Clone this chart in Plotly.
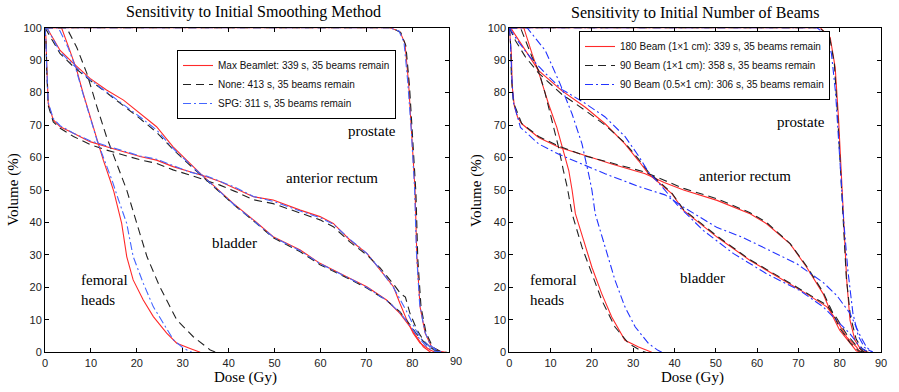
import plotly.graph_objects as go

W, H = 899, 392

# ---------------- Left panel: Sensitivity to Initial Smoothing Method ----------------
L_names = ["Max Beamlet: 339 s, 35 beams remain", "None: 413 s, 35 beams remain", "SPG: 311 s, 35 beams remain"]

# femoral heads
L_fem_red_x = [0, 3.6, 5.4, 6.9, 8.3, 9.8, 11.3, 12.7, 14.2, 15.0, 15.6, 16.7, 17.8, 19.2, 21.4, 23.6, 26.5, 28.7, 31.6, 33.8]
L_fem_red_y = [100, 100, 93, 87, 79.8, 72.6, 65.4, 59.2, 53, 49.5, 46, 39.7, 29.5, 22.3, 16.1, 11, 5.9, 2.8, 1.2, 0]
L_fem_blk_x = [0, 4.7, 6.9, 9.1, 11.3, 13.4, 15.6, 17.8, 20, 22.2, 25, 28.7, 32.3, 36, 37.2]
L_fem_blk_y = [100, 100, 94, 86, 75.7, 66.4, 58.2, 50, 39.7, 29.5, 20.2, 10, 4.8, 0.7, 0]
L_fem_blu_x = [0, 2.9, 5, 6.6, 8.2, 9.8, 11.4, 13, 14.6, 16, 17.8, 19.2, 21.4, 23.6, 25.8, 28, 30.2, 32]
L_fem_blu_y = [100, 100, 94, 88, 80, 72.5, 65, 59, 53, 47, 39.7, 29.5, 21.3, 14, 8.9, 3.8, 1.2, 0]

# bladder
L_bla_red_x = [0, 0.4, 3.3, 6.2, 9.8, 13.4, 17.1, 20.7, 24.3, 27.9, 30.9, 33.8, 37.4, 41, 45.4, 49.7, 55.6, 59.9, 65.7, 70.1, 74.4, 77.3, 79.5, 81, 82.4, 84]
L_bla_red_y = [100, 100, 93, 89, 84.4, 80.8, 77.7, 73.6, 69.5, 63.3, 59.2, 55.1, 50.5, 45.9, 40.8, 35.6, 31.5, 27.4, 23.3, 20.2, 16.1, 12, 7.9, 4.8, 1.7, 0]
L_bla_blk_x = [0, 0.4, 3.3, 6.2, 9.8, 13.4, 17.1, 20.7, 24.3, 27.9, 30.9, 33.8, 37.4, 41, 45.4, 49.7, 55.6, 59.9, 65.7, 70.1, 74.4, 77.3, 79.5, 81, 83, 85, 86]
L_bla_blk_y = [100, 99, 92, 88, 83.8, 80, 76, 72, 67.8, 62.5, 58.5, 54.8, 50, 45.6, 40.5, 35.3, 31, 27, 23, 19.8, 16, 12.5, 8.5, 5.5, 2.5, 0.5, 0]
L_bla_blu_x = [0, 0.4, 3.3, 6.2, 9.8, 13.4, 17.1, 20.7, 24.3, 27.9, 30.9, 33.8, 37.4, 41, 45.4, 49.7, 55.6, 59.9, 65.7, 70.1, 74.4, 77.3, 79.5, 81, 82.8, 84.5, 86]
L_bla_blu_y = [100, 100, 92.5, 88.5, 84, 80.2, 76.5, 72.5, 68.5, 62.8, 58.8, 55, 50.2, 45.7, 40.6, 35.5, 31.3, 27.3, 23.2, 20, 16, 12.3, 8.3, 5.2, 2.2, 0.5, 0]

# anterior rectum
L_rec_red_x = [0, 0.2, 0.4, 0.7, 1.8, 3.3, 6.2, 9.8, 13.4, 17.1, 20.7, 24.3, 27.9, 31.6, 35.2, 38.1, 41.5, 45.4, 49.7, 55.6, 59.9, 62.8, 66.4, 70.1, 73, 75.9, 77.3, 78.8, 80.2, 81.7, 83.9, 85]
L_rec_red_y = [100, 97, 88, 76.7, 71.6, 69.5, 67.5, 64.9, 63.3, 61.8, 60.3, 59.2, 57.2, 55.6, 54.1, 52.6, 50.5, 47.9, 46.9, 43.8, 41.8, 39.7, 34.6, 30.5, 25.4, 20.2, 15.1, 10, 5.9, 2.8, 0.7, 0]
L_rec_blk_x = [0, 0.2, 0.4, 0.7, 1.8, 3.3, 6.2, 9.8, 13.4, 17.1, 20.7, 24.3, 27.9, 31.6, 35.2, 38.1, 41.5, 45.4, 49.7, 55.6, 59.9, 62.8, 66.4, 70.1, 73, 75.9, 77.5, 78.5, 79.5, 81, 82.5, 84, 86]
L_rec_blk_y = [100, 96, 86, 76, 71, 69, 66.5, 64, 62.3, 60.8, 59.3, 58.2, 56.2, 54.6, 53, 51.5, 49.5, 47, 45.8, 42.8, 40.8, 38.7, 34, 30, 26, 21, 18, 17, 12, 7, 3.5, 1.5, 0]
L_rec_blu_x = [0, 0.2, 0.4, 0.7, 1.8, 3.3, 6.2, 9.8, 13.4, 17.1, 20.7, 24.3, 27.9, 31.6, 35.2, 38.1, 41.5, 45.4, 49.7, 55.6, 59.9, 62.8, 66.4, 70.1, 73, 75.9, 77.5, 79, 80.5, 82, 84, 86]
L_rec_blu_y = [100, 96, 87, 77, 72, 69.8, 67.5, 65.2, 63.6, 62, 60.5, 59.5, 57.5, 55.5, 54.3, 52.8, 50.8, 48, 46.5, 43.5, 41.5, 39.5, 34.8, 30.5, 25.5, 20, 16, 12, 7.5, 4, 1.5, 0]

# prostate
L_pro_red_x = [0, 75.2, 77.3, 78.4, 79.2, 79.9, 80.6, 81, 81.7, 82.8, 84.2, 86, 87.3]
L_pro_red_y = [100, 100, 98.8, 95.2, 82.9, 67.5, 50, 29.5, 14, 5.9, 1.7, 0.3, 0]
L_pro_blk_x = [0, 75.5, 77.5, 78.6, 79.4, 80.1, 80.8, 81.2, 81.9, 83, 84.5, 86.3, 87.5]
L_pro_blk_y = [100, 100, 98.5, 94.5, 82, 66, 49, 29, 14, 6, 1.5, 0.2, 0]
L_pro_blu_x = [0, 75, 77.1, 78.2, 79, 79.8, 80.5, 80.9, 81.6, 82.7, 84, 85.8, 87]
L_pro_blu_y = [100, 100, 99, 95.5, 83.5, 68, 50.5, 31, 15, 6.5, 2, 0.3, 0]

# ---------------- Right panel: Sensitivity to Initial Number of Beams ----------------
R_names = ["180 Beam (1\u00d71 cm): 339 s, 35 beams remain", "90 Beam (1\u00d71 cm): 358 s, 35 beams remain", "90 Beam (0.5\u00d71 cm): 306 s, 35 beams remain"]

R_fem_red_x = [0, 3.5, 5.5, 7.5, 9.5, 11.5, 13.1, 14.4, 15.2, 16, 18, 20, 22.4, 24.8, 28, 31.3, 34.5]
R_fem_red_y = [100, 100, 92, 84.7, 76.5, 69.3, 62, 56, 50, 42.7, 34.5, 26.2, 18, 10.9, 3.7, 1.6, 0]
R_fem_blk_x = [0, 2.7, 5.5, 7.1, 8.7, 10.3, 11.9, 13.1, 14, 15.2, 17.6, 20, 22.4, 25.6, 28.9, 32, 33]
R_fem_blk_y = [100, 100, 91, 86.8, 79.7, 71.5, 63.3, 56, 51, 42.7, 32.4, 24.2, 16, 7.8, 2.7, 0.4, 0]
R_fem_blu_x = [0, 4.3, 8.7, 12.3, 15.2, 17.6, 19.2, 20, 20.8, 23.2, 25.6, 28, 30.5, 33.7, 36, 37]
R_fem_blu_y = [100, 100, 93, 82.7, 73.4, 64.2, 55, 50, 42.7, 32.4, 22.2, 14, 7.8, 2.7, 0.6, 0]

R_bla_red_x = [0, 0.5, 3.9, 7.1, 12.7, 18.4, 23.2, 28, 31.3, 33.7, 39.4, 42.2, 50.3, 58.3, 66.4, 72, 76.9, 79.3, 81.7, 84.1, 85]
R_bla_red_y = [100, 99.6, 93, 86.8, 80.6, 75.5, 70.4, 64.2, 59, 55, 48.8, 43.7, 35.5, 28.3, 22.2, 18, 14, 9.8, 4.7, 1.6, 0]
R_bla_blk_x = [0, 1.5, 3.9, 7.1, 12.7, 18.4, 23.2, 28, 31.3, 33.7, 39.4, 42.2, 50.3, 58.3, 66.4, 72, 76.9, 79.3, 81.7, 84.1, 86]
R_bla_blk_y = [100, 96, 91, 86, 79.5, 74.5, 70, 64.5, 59.5, 55.5, 49, 44, 35.8, 28.5, 22.5, 18.3, 14.5, 10.5, 5.5, 2, 0]
R_bla_blu_x = [0, 2, 5, 8.7, 12.7, 18, 23.2, 28, 31.3, 33.7, 37, 40.6, 47, 54.3, 62.3, 70.4, 76, 79.3, 82.5, 85, 87]
R_bla_blu_y = [100, 96, 91, 86, 81, 77, 72.5, 66.5, 60.5, 55.5, 51, 45.5, 37.5, 30.4, 24.2, 19, 14, 9.8, 5.7, 1.5, 0]

R_rec_red_x = [0, 0.2, 0.5, 0.7, 1.2, 2, 3, 7.1, 12, 18.4, 24.8, 32.9, 37.5, 42.2, 50.3, 58.3, 62.3, 68, 72, 76, 78, 80, 82.5, 84, 85]
R_rec_red_y = [100, 97, 92, 82, 76, 72.5, 70.4, 66.2, 63.2, 60.6, 58, 55, 52.3, 50, 46.8, 42.7, 39.6, 33.4, 26.2, 18, 11.9, 6.8, 2.7, 0.5, 0]
R_rec_blk_x = [0, 0.3, 0.5, 1, 3, 7.1, 12, 18.4, 24.8, 32.9, 37.5, 42.2, 50.3, 58.3, 62.3, 68, 72, 76, 78, 80, 82.5, 84.5, 86]
R_rec_blk_y = [100, 95, 85, 77, 70.5, 66.5, 63.5, 60.5, 58.3, 55.5, 53, 50.5, 47.3, 43, 40, 33.5, 26.5, 18.5, 13, 7.5, 3, 0.5, 0]
R_rec_blu_x = [0, 0.3, 0.6, 1, 2.7, 7.1, 12, 17.6, 23.2, 31.5, 37.7, 42.2, 50.2, 56.7, 63.2, 69.6, 76, 79.3, 82.5, 85, 86.5, 88]
R_rec_blu_y = [100, 95, 85, 77, 69.3, 64.2, 61, 58, 55, 51, 48.5, 44.7, 38.5, 35.3, 31.3, 27.3, 21.5, 17.5, 12, 5, 1.6, 0]

R_pro_red_x = [0, 75.3, 77.7, 78.9, 79.7, 80.5, 80.9, 81.7, 82.5, 83.7, 85.3, 87]
R_pro_red_y = [100, 100, 97, 87.8, 72.4, 50.9, 42.7, 22.2, 9.8, 3.7, 0.5, 0]
R_pro_blk_x = [0, 75, 77.5, 78.7, 79.5, 80.3, 80.8, 81.6, 82.6, 84, 85.5, 87]
R_pro_blk_y = [100, 100, 97.5, 89, 73, 52, 42, 23, 11, 4, 1, 0]
R_pro_blu_x = [0, 74.5, 76.5, 78, 79, 79.7, 80.5, 81, 82, 83.2, 84.5, 86, 88]
R_pro_blu_y = [100, 100, 98, 92, 80, 65, 50, 40, 25, 12, 5, 1.5, 0]

# tick labels
x_ticks = [0, 10, 20, 30, 40, 50, 60, 70, 80, 90]
y_ticks = [0, 10, 20, 30, 40, 50, 60, 70, 80, 90, 100]

RED = "#ff2a2a"
BLK = "#222222"
BLU_L = "#4466ff"
BLU_R = "#2233ff"
DASH = "8px,5px"
DASHDOT = "8px,3px,2px,3px"

fig = go.Figure()

def add_set(xs_ys, name, color, dash, xaxis, yaxis, legend):
    first = True
    for xs, ys in xs_ys:
        fig.add_trace(go.Scatter(
            x=xs, y=ys, mode="lines", name=name,
            line=dict(color=color, width=1.1, dash=dash),
            xaxis=xaxis, yaxis=yaxis, legend=legend,
            showlegend=first, hoverinfo="skip"))
        first = False

add_set([(L_fem_red_x, L_fem_red_y), (L_bla_red_x, L_bla_red_y), (L_rec_red_x, L_rec_red_y), (L_pro_red_x, L_pro_red_y)],
        L_names[0], RED, "solid", "x", "y", "legend")
add_set([(L_fem_blk_x, L_fem_blk_y), (L_bla_blk_x, L_bla_blk_y), (L_rec_blk_x, L_rec_blk_y), (L_pro_blk_x, L_pro_blk_y)],
        L_names[1], BLK, DASH, "x", "y", "legend")
add_set([(L_fem_blu_x, L_fem_blu_y), (L_bla_blu_x, L_bla_blu_y), (L_rec_blu_x, L_rec_blu_y), (L_pro_blu_x, L_pro_blu_y)],
        L_names[2], BLU_L, DASHDOT, "x", "y", "legend")

add_set([(R_fem_red_x, R_fem_red_y), (R_bla_red_x, R_bla_red_y), (R_rec_red_x, R_rec_red_y), (R_pro_red_x, R_pro_red_y)],
        R_names[0], RED, "solid", "x2", "y2", "legend2")
add_set([(R_fem_blk_x, R_fem_blk_y), (R_bla_blk_x, R_bla_blk_y), (R_rec_blk_x, R_rec_blk_y), (R_pro_blk_x, R_pro_blk_y)],
        R_names[1], BLK, DASH, "x2", "y2", "legend2")
add_set([(R_fem_blu_x, R_fem_blu_y), (R_bla_blu_x, R_bla_blu_y), (R_rec_blu_x, R_rec_blu_y), (R_pro_blu_x, R_pro_blu_y)],
        R_names[2], BLU_R, DASHDOT, "x2", "y2", "legend2")

tickfont = dict(family="Liberation Sans, Arial, sans-serif", size=11, color="#222")
serif = "Liberation Serif, Times New Roman, serif"

ydom = [1 - 352.3 / H, 1 - 27.7 / H]
axis_common = dict(showline=True, linecolor="black", linewidth=1, mirror="ticks",
                   ticks="inside", ticklen=4, tickcolor="black", showgrid=False,
                   zeroline=False, tickfont=tickfont, automargin=False)

legfont = dict(family="Liberation Sans, Arial, sans-serif", size=10, color="#111")

fig.update_layout(
    template="none",
    width=W, height=H, margin=dict(l=0, r=0, t=0, b=0, pad=0, autoexpand=False),
    paper_bgcolor="white", plot_bgcolor="white",
    xaxis=dict(domain=[45 / W, 449 / W], range=[0, 88], tickvals=x_ticks[:-1], anchor="y", **axis_common),
    yaxis=dict(domain=ydom, range=[0, 100], tickvals=y_ticks, anchor="x", **axis_common),
    xaxis2=dict(domain=[509.3 / W, 881 / W], range=[0, 90], tickvals=x_ticks, anchor="y2", **axis_common),
    yaxis2=dict(domain=ydom, range=[0, 100], tickvals=y_ticks, anchor="x2", **axis_common),
    legend=dict(x=177 / W, y=1 - 50 / H, xanchor="left", yanchor="top",
                bgcolor="white", bordercolor="black", borderwidth=1,
                font=legfont, itemwidth=30, tracegroupgap=0),
    legend2=dict(x=579 / W, y=1 - 31 / H, xanchor="left", yanchor="top",
                 bgcolor="white", bordercolor="black", borderwidth=1,
                 font=legfont, itemwidth=30, tracegroupgap=0),
    showlegend=True,
)

anns = []
def pann(text, px, py, font, **kw):
    d = dict(text=text, x=px / W, y=1 - py / H, xref="paper", yref="paper", showarrow=False,
             xanchor="center", yanchor="middle", font=font)
    d.update(kw)
    anns.append(d)

# titles
pann("Sensitivity to Initial Smoothing Method", 253, 12, dict(family=serif, size=16, color="black"))
pann("Sensitivity to Initial Number of Beams", 695, 13, dict(family=serif, size=16, color="black"))
# axis titles
pann("Dose (Gy)", 245, 377, dict(family=serif, size=15, color="black"))
pann("Dose (Gy)", 692, 377, dict(family=serif, size=15, color="black"))
pann("Volume (%)", 14, 190, dict(family=serif, size=15, color="black"), textangle=-90)
pann("Volume (%)", 477, 190, dict(family=serif, size=15, color="black"), textangle=-90)
# stray 90 tick label of left panel
pann("90", 456, 361, tickfont)

lab_font = dict(family=serif, size=15, color="black")
def dann(text, x, y, xr, yr, **kw):
    d = dict(text=text, x=x, y=y, xref=xr, yref=yr, showarrow=False, xanchor="center",
             yanchor="middle", font=lab_font)
    d.update(kw)
    anns.append(d)

dann("prostate", 71.2, 68.2, "x", "y")
dann("anterior rectum", 62.5, 53.7, "x", "y")
dann("bladder", 41.2, 33.7, "x", "y")
dann("femoral<br>heads", 7.4, 19.2, "x", "y", xanchor="left", align="left")
dann("prostate", 70.6, 70.9, "x2", "y2")
dann("anterior rectum", 57, 54.3, "x2", "y2")
dann("bladder", 46.8, 22.9, "x2", "y2")
dann("femoral<br>heads", 4.5, 19.2, "x2", "y2", xanchor="left", align="left")

fig.update_layout(annotations=anns)

fig.write_html("out.html", config={"displayModeBar": False},
               post_script="document.body.style.margin='0px';document.body.style.padding='0px';")
